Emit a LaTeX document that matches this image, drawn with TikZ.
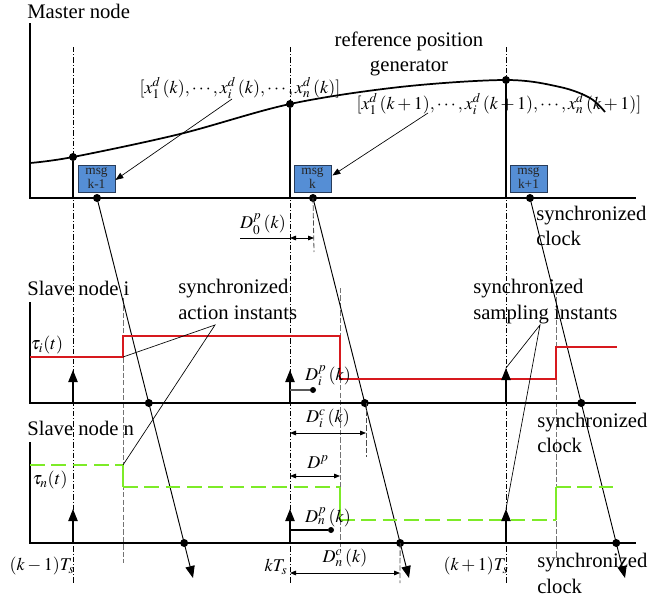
\documentclass[tikz,border=0pt]{standalone}
\usepackage{mathptmx}
\usepackage{fontspec}
\setmainfont{Liberation Serif}
\usetikzlibrary{arrows.meta,calc}
\definecolor{msgblue}{RGB}{85,142,213}
\definecolor{msgedge}{RGB}{40,60,90}
\definecolor{sigred}{RGB}{215,25,30}
\definecolor{siggreen}{RGB}{125,235,40}
\begin{document}
\begin{tikzpicture}[x=0.75pt,y=-0.75pt,
  axisline/.style={line width=1.5pt},
  dashdot/.style={line width=0.5pt, dash pattern=on 4pt off 1.6pt on 0.6pt off 1.6pt},
  graydash/.style={line width=0.6pt, black!55, dash pattern=on 4pt off 1.6pt},
  msgline/.style={line width=0.7pt},
  dotmark/.style={circle, fill, inner sep=0pt, minimum size=6pt},
  smalldot/.style={circle, fill, inner sep=0pt, minimum size=4.5pt},
  msgbox/.style={draw=msgedge, line width=0.6pt, fill=msgblue, text=black!85, minimum width=27.75pt, minimum height=20.25pt, inner sep=0pt, align=center, font=\fontsize{10}{10.5}\selectfont},
  lbl/.style={inner sep=0pt, font=\fontsize{15.5}{18}\selectfont},
  mlbl/.style={inner sep=0pt, font=\fontsize{13.5}{16}\selectfont},
  bigtip/.style={-{Triangle[length=9pt,width=7pt]}},
  calltip/.style={-{Triangle[length=6pt,width=4.5pt]}},
  dimtip/.style={{Triangle[length=4.5pt,width=3.5pt]}-{Triangle[length=4.5pt,width=3.5pt]}},
  redsig/.style={sigred, line width=1.1pt},
  greensig/.style={siggreen, line width=1.3pt, dash pattern=on 11pt off 5pt},
  callout/.style={line width=0.5pt}
]
\useasboundingbox (0,0) rectangle (672,600);

% ---------- dash-dot time lines ----------
\coordinate (t1top) at (73,47);   \coordinate (t1bot) at (73,583);
\coordinate (t2top) at (290,47);  \coordinate (t2bot) at (290,583);
\coordinate (t3top) at (506,47);  \coordinate (t3bot) at (506,583);
\draw[dashdot] (t1top) -- (t1bot);
\draw[dashdot] (t2top) -- (t2bot);
\draw[dashdot] (t3top) -- (t3bot);

% ---------- gray dashed action lines ----------
\coordinate (a1top) at (123,298); \coordinate (a1bot) at (123,563);
\coordinate (a2top) at (340,288); \coordinate (a2bot) at (340,553);
\coordinate (a3top) at (556,290); \coordinate (a3bot) at (556,560);
\draw[graydash] (a1top) -- (a1bot);
\draw[graydash] (a2top) -- (a2bot);
\draw[graydash] (a3top) -- (a3bot);

% ---------- master node ----------
\coordinate (mOrig) at (30,198);
\coordinate (mTop) at (30,23);
\coordinate (mEnd) at (636,198);
\draw[axisline] (mTop) -- (mOrig) -- (mEnd);
\node[lbl, anchor=base west] (mastertxt) at (27,18) {Master node};

\draw[line width=1.3pt] plot[smooth, tension=0.55] coordinates
  {(30,163) (73,157) (180,134) (290,104) (400,87) (506,80) (560,87) (590,98) (605,112)};
\node[dotmark] (c1) at (73,157) {};
\node[dotmark] (c2) at (290,104) {};
\node[dotmark] (c3) at (506,80) {};
\coordinate (c1b) at (73,198);
\coordinate (c2b) at (290,198);
\coordinate (c3b) at (506,198);
\draw[line width=0.8pt] (c1) -- (c1b);
\draw[line width=0.8pt] (c2) -- (c2b);
\draw[line width=0.8pt] (c3) -- (c3b);

\node[lbl, anchor=base] (refgen1) at (409,46) {reference position};
\node[lbl, anchor=base] (refgen2) at (409,71) {generator};

\node[msgbox] (msgA) at (96.5,178.5) {msg\\k-1};
\node[msgbox] (msgB) at (312.5,178.5) {msg\\k};
\node[msgbox] (msgC) at (528.5,178.5) {msg\\k+1};

\node[mlbl] (xk) at (240,88) {$[x_1^d\,(k),\cdots,x_i^d\,(k),\cdots,x_n^d\,(k)]$};
\node[mlbl] (xk1) at (499,104) {$[x_1^d\,(k+1),\cdots,x_i^d\,(k+1),\cdots,x_n^d\,(k+1)]$};
\coordinate (xkfoot) at (232,99);
\coordinate (xk1foot) at (428,113);
\draw[callout, calltip] (xkfoot) -- ($(msgA.east)+(0,1.5)$);
\draw[callout, calltip] (xk1foot) -- ($(msgB.east)+(1,-3)$);

% message dots
\node[dotmark] (m1) at (97,198) {};
\node[dotmark] (m2) at (313,198) {};
\node[dotmark] (m3) at (530,198) {};
\coordinate (e1) at (193,578);
\coordinate (e2) at (409,578);
\coordinate (e3) at (625,578);
\draw[msgline, bigtip] (m1.center) -- (e1);
\draw[msgline, bigtip] (m2.center) -- (e2);
\draw[msgline, bigtip] (m3.center) -- (e3);

\node[lbl, anchor=base west] (sc1a) at (536,220) {synchronized};
\node[lbl, anchor=base west] (sc1b) at (536,245) {clock};

% D0p
\coordinate (d0dash) at (314,252);
\draw[graydash, black!70] (m2.center) -- (d0dash);
\coordinate (d0s) at (240,238);
\coordinate (d0a) at (290,238);
\coordinate (d0b) at (314,238);
\draw[line width=0.6pt] (d0s) -- (d0a);
\draw[line width=0.6pt, dimtip] (d0a) -- (d0b);
\node[mlbl] (d0lbl) at (263,224) {$D_0^p\,(k)$};

% ---------- slave node i ----------
\coordinate (iOrig) at (30,403);
\coordinate (iTop) at (30,302);
\coordinate (iEnd) at (636,403);
\draw[axisline] (iTop) -- (iOrig) -- (iEnd);
\node[lbl, anchor=base west] (slaveitxt) at (27,295) {Slave node i};
\node[mlbl] (taui) at (47,345) {$\tau_i(t)$};

\coordinate (r0) at (30,357);
\coordinate (r1) at (123,357);
\coordinate (r2) at (123,336);
\coordinate (r3) at (340,336);
\coordinate (r4) at (340,379);
\coordinate (r5) at (556,379);
\coordinate (r6) at (556,347);
\coordinate (r7) at (617,347);
\draw[redsig] (r0) -- (r1) -- (r2) -- (r3) -- (r4) -- (r5) -- (r6) -- (r7);

\coordinate (ui1) at (73,403); \coordinate (ui1t) at (73,370);
\coordinate (ui2) at (290,403); \coordinate (ui2t) at (290,370);
\coordinate (ui3) at (506,403); \coordinate (ui3t) at (506,368);
\draw[line width=0.8pt, bigtip] (ui1) -- (ui1t);
\draw[line width=0.8pt, bigtip] (ui2) -- (ui2t);
\draw[line width=0.8pt, bigtip] (ui3) -- (ui3t);

\node[dotmark] (si1) at ($(m1.center)!0.5395!(e1)$) {};
\node[dotmark] (si2) at ($(m2.center)!0.5395!(e2)$) {};
\node[dotmark] (si3) at ($(m3.center)!0.5395!(e3)$) {};

\node[lbl, anchor=base west] (sc2a) at (537,427) {synchronized};
\node[lbl, anchor=base west] (sc2b) at (537,452) {clock};

% Dip
\coordinate (dipa) at (290,390);
\node[smalldot] (dipdot) at (313,390) {};
\draw[line width=0.8pt, black!65] (dipa) -- (dipdot);
\node[mlbl] (diplbl) at (328,376) {$D_i^p\,(k)$};

% Dic
\coordinate (dicdashtop) at (366,403);
\coordinate (dicdash) at (366,457);
\draw[graydash, black!70] (dicdashtop) -- (dicdash);
\coordinate (dica) at (290,433);
\coordinate (dicb) at (366,433);
\draw[line width=0.6pt, dimtip] (dica) -- (dicb);
\node[mlbl] (diclbl) at (328,418) {$D_i^c\,(k)$};

% ---------- slave node n ----------
\coordinate (nOrig) at (30,543);
\coordinate (nTop) at (30,442);
\coordinate (nEnd) at (636,543);
\draw[axisline] (nTop) -- (nOrig) -- (nEnd);
\node[lbl, anchor=base west] (slaventxt) at (27,435) {Slave node n};
\node[mlbl] (taun) at (50,480) {$\tau_n(t)$};

\coordinate (g0) at (30,465);
\coordinate (g1) at (123,465);
\coordinate (g2) at (123,487);
\coordinate (g3) at (340,487);
\coordinate (g4) at (340,520);
\coordinate (g5) at (556,520);
\coordinate (g6) at (556,487);
\coordinate (g7) at (615,487);
\draw[greensig] (g0) -- (g1);
\draw[siggreen, line width=1.3pt] (g1) -- (g2);
\draw[greensig] (g2) -- (g3);
\draw[siggreen, line width=1.3pt] (g3) -- (g4);
\draw[greensig] (g4) -- (g5);
\draw[siggreen, line width=1.3pt] (g5) -- (g6);
\draw[greensig] (g6) -- (g7);

\coordinate (un1) at (73,543); \coordinate (un1t) at (73,509);
\coordinate (un2) at (290,543); \coordinate (un2t) at (290,509);
\coordinate (un3) at (506,543); \coordinate (un3t) at (506,509);
\draw[line width=0.8pt, bigtip] (un1) -- (un1t);
\draw[line width=0.8pt, bigtip] (un2) -- (un2t);
\draw[line width=0.8pt, bigtip] (un3) -- (un3t);

\node[dotmark] (sn1) at ($(m1.center)!0.9079!(e1)$) {};
\node[dotmark] (sn2) at ($(m2.center)!0.9079!(e2)$) {};
\node[dotmark] (sn3) at ($(m3.center)!0.9079!(e3)$) {};

\node[lbl, anchor=base west] (sc3a) at (537,567) {synchronized};
\node[lbl, anchor=base west] (sc3b) at (537,593) {clock};

% Dp
\coordinate (dpa) at (290,476);
\coordinate (dpb) at (340,476);
\draw[line width=0.6pt, dimtip] (dpa) -- (dpb);
\node[mlbl] (dplbl) at (318,462) {$D^p$};

% Dnp
\coordinate (dnpa) at (290,530);
\node[smalldot] (dnpdot) at (331,530) {};
\draw[line width=0.8pt] (dnpa) -- (dnpdot);
\node[mlbl] (dnplbl) at (328,517) {$D_n^p\,(k)$};

% Dnc
\coordinate (dncdash) at (400,583);
\draw[graydash, black!70] (sn2.center) -- (dncdash);
\coordinate (dnca) at (290,573);
\coordinate (dncb) at (400,573);
\draw[line width=0.6pt, dimtip] (dnca) -- (dncb);
\node[mlbl] (dnclbl) at (345,558) {$D_n^c\,(k)$};

% time labels
\node[mlbl] (tkm1) at (42,566) {$(k-1)T_s$};
\node[mlbl] (tk) at (276,567) {$kT_s$};
\node[mlbl] (tkp1) at (476,566) {$(k+1)T_s$};

% callouts for synchronized instants
\node[lbl, anchor=base west] (sai1) at (178,293) {synchronized};
\node[lbl, anchor=base west] (sai2) at (178,319) {action instants};
\coordinate (saiapex) at (215,325);
\draw[callout] (r1) -- (saiapex) -- (g1);

\node[lbl, anchor=base west] (ssi1) at (473,293) {synchronized};
\node[lbl, anchor=base west] (ssi2) at (473,319) {sampling instants};
\coordinate (ssiapex) at (540,325);
\draw[callout] (ui3t) -- (ssiapex) -- (un3t);
\end{tikzpicture}
\end{document}
